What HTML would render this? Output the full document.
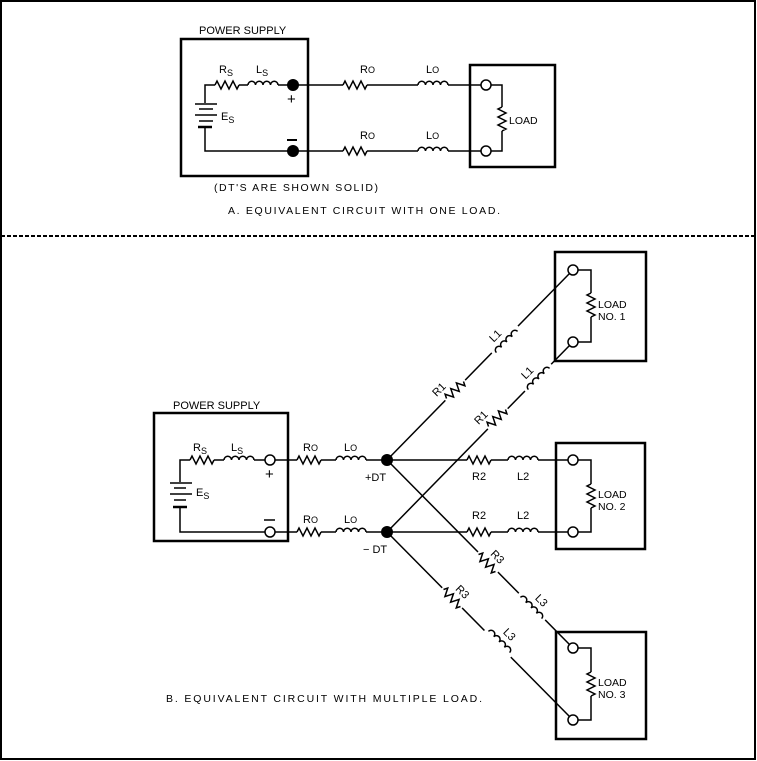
<!DOCTYPE html>
<html><head><meta charset="utf-8"><style>
html,body{margin:0;padding:0;background:#fff}
svg{display:block}
</style></head><body>
<svg width="757" height="761" viewBox="0 0 757 761" xmlns="http://www.w3.org/2000/svg" font-family="Liberation Sans, sans-serif" font-size="11" fill="#000">
<defs>
<path id="res" d="M-12,0 l2,-4 l4,8 l4,-8 l4,8 l4,-8 l4,8 l2,-4" fill="none" stroke="#000" stroke-width="1.5"/>
<path id="ind" d="M-15,0 a3.75,3.75 0 0 1 7.5,0 a3.75,3.75 0 0 1 7.5,0 a3.75,3.75 0 0 1 7.5,0 a3.75,3.75 0 0 1 7.5,0" fill="none" stroke="#000" stroke-width="1.5"/>
<path id="rv" d="M0,-12 l-4,2 l8,4 l-8,4 l8,4 l-8,4 l8,4 l-4,2" fill="none" stroke="#000" stroke-width="1.5"/>
</defs>
<rect x="1" y="1" width="754" height="758" fill="none" stroke="#000" stroke-width="2"/>
<line x1="1" y1="236" x2="755" y2="236" stroke="#000" stroke-width="2" stroke-dasharray="4,2"/>

<g stroke="#000" stroke-width="1.5" fill="none">
<rect x="181" y="39" width="127" height="137" stroke-width="2.5"/>
<rect x="470" y="65" width="85" height="102" stroke-width="2.5"/>
<polyline points="205,103 205,85 215,85"/>
<line x1="239" y1="85" x2="248" y2="85"/>
<line x1="278" y1="85" x2="343" y2="85"/>
<line x1="367" y1="85" x2="418" y2="85"/>
<line x1="448" y1="85" x2="481" y2="85"/>
<polyline points="205,128 205,151 343,151"/>
<line x1="367" y1="151" x2="418" y2="151"/>
<line x1="448" y1="151" x2="481" y2="151"/>
<polyline points="491,85 502,85 502,107"/>
<polyline points="502,131 502,151 491,151"/>
<line x1="195" y1="104" x2="217" y2="104"/>
<line x1="199" y1="109" x2="213" y2="109"/>
<line x1="195" y1="115" x2="217" y2="115"/>
<line x1="199" y1="121" x2="213" y2="121"/>
<line x1="198" y1="127" x2="212" y2="127" stroke-width="2.5"/>
<circle cx="486" cy="85" r="5"/>
<circle cx="486" cy="151" r="5"/>
<line x1="287" y1="140" x2="297" y2="140" stroke-width="2"/>
<line x1="264" y1="520" x2="275" y2="520" stroke-width="1.5"/>
</g>
<use href="#res" x="227" y="85"/>
<use href="#ind" x="263" y="85"/>
<use href="#res" x="355" y="85"/>
<use href="#ind" x="433" y="85"/>
<use href="#res" x="355" y="151"/>
<use href="#ind" x="433" y="151"/>
<use href="#rv" x="502" y="119"/>
<circle cx="293" cy="85" r="6"/>
<circle cx="293" cy="151" r="6"/>
<text x="199" y="34">POWER SUPPLY</text>
<text x="219" y="73">R<tspan font-size="9" dy="3">S</tspan></text>
<text x="256" y="73">L<tspan font-size="9" dy="3">S</tspan></text>
<text x="221" y="120">E<tspan font-size="9" dy="3">S</tspan></text>
<text x="287" y="104" font-size="15">+</text>
<text x="360" y="73">R<tspan font-size="9">O</tspan></text>
<text x="426" y="73">L<tspan font-size="9">O</tspan></text>
<text x="360" y="139">R<tspan font-size="9">O</tspan></text>
<text x="426" y="139">L<tspan font-size="9">O</tspan></text>
<text x="509" y="124" font-size="10.5">LOAD</text>
<text x="214" y="191" font-size="10.5" textLength="164" lengthAdjust="spacing">(DT'S ARE SHOWN SOLID)</text>
<text x="228" y="214" font-size="10.5" textLength="272" lengthAdjust="spacing">A. EQUIVALENT CIRCUIT WITH ONE LOAD.</text>

<g stroke="#000" stroke-width="1.5" fill="none">
<rect x="154" y="413" width="134" height="128" stroke-width="2.5"/>
<rect x="555" y="252" width="91" height="109" stroke-width="2.5"/>
<rect x="556" y="443" width="89" height="106" stroke-width="2.5"/>
<rect x="556" y="632" width="90" height="107" stroke-width="2.5"/>
<polyline points="180,482 180,460 190,460"/>
<line x1="214" y1="460" x2="224" y2="460"/>
<line x1="254" y1="460" x2="265" y2="460"/>
<polyline points="180,508 180,532 265,532"/>
<line x1="275" y1="460" x2="297" y2="460"/>
<line x1="321" y1="460" x2="336" y2="460"/>
<line x1="366" y1="460" x2="467" y2="460"/>
<line x1="491" y1="460" x2="508" y2="460"/>
<line x1="538" y1="460" x2="568" y2="460"/>
<line x1="275" y1="532" x2="297" y2="532"/>
<line x1="321" y1="532" x2="336" y2="532"/>
<line x1="366" y1="532" x2="467" y2="532"/>
<line x1="491" y1="532" x2="508" y2="532"/>
<line x1="538" y1="532" x2="568" y2="532"/>
<line x1="170" y1="483" x2="192" y2="483"/>
<line x1="174" y1="488" x2="186" y2="488"/>
<line x1="170" y1="494" x2="192" y2="494"/>
<line x1="174" y1="500" x2="186" y2="500"/>
<line x1="173" y1="507" x2="187" y2="507" stroke-width="2.5"/>
<circle cx="270" cy="460" r="5"/>
<circle cx="270" cy="532" r="5"/>
<line x1="387" y1="460" x2="570" y2="273"/>
<line x1="387" y1="532" x2="570" y2="345"/>
<line x1="387" y1="460" x2="570" y2="645"/>
<line x1="387" y1="532" x2="570" y2="717"/>
<polyline points="578,270 591,270 591,293"/>
<polyline points="591,317 591,342 578,342"/>
<polyline points="578,460 591,460 591,484"/>
<polyline points="591,508 591,532 578,532"/>
<polyline points="578,648 591,648 591,672"/>
<polyline points="591,696 591,720 578,720"/>
<circle cx="573" cy="270" r="5" fill="#fff"/>
<circle cx="573" cy="342" r="5" fill="#fff"/>
<circle cx="573" cy="460" r="5" fill="#fff"/>
<circle cx="573" cy="532" r="5" fill="#fff"/>
<circle cx="573" cy="648" r="5" fill="#fff"/>
<circle cx="573" cy="720" r="5" fill="#fff"/>
</g>
<use href="#res" x="202" y="460"/>
<use href="#ind" x="239" y="460"/>
<use href="#res" x="309" y="460"/>
<use href="#ind" x="351" y="460"/>
<use href="#res" x="309" y="532"/>
<use href="#ind" x="351" y="532"/>
<use href="#res" x="479" y="460"/>
<use href="#ind" x="523" y="460"/>
<use href="#res" x="479" y="532"/>
<use href="#ind" x="523" y="532"/>
<use href="#rv" x="591" y="305"/>
<use href="#rv" x="591" y="496"/>
<use href="#rv" x="591" y="684"/>
<g stroke="#fff" stroke-width="8">
<line x1="445" y1="400" x2="465" y2="380"/>
<line x1="494" y1="355" x2="520" y2="328"/>
<line x1="487" y1="428" x2="507" y2="408"/>
<line x1="526" y1="392" x2="552" y2="365"/>
<line x1="477" y1="553" x2="497" y2="573"/>
<line x1="518" y1="594" x2="544" y2="621"/>
<line x1="442" y1="588" x2="462" y2="608"/>
<line x1="486" y1="629" x2="512" y2="656"/>
</g>
<g transform="translate(455,390) rotate(-45)"><use href="#res"/><text x="-18" y="-8">R1</text></g>
<g transform="translate(507,342) rotate(-45)"><use href="#ind"/><text x="-10" y="-9">L1</text></g>
<g transform="translate(497,418) rotate(-45)"><use href="#res"/><text x="-18" y="-8">R1</text></g>
<g transform="translate(539,379) rotate(-45)"><use href="#ind"/><text x="-10" y="-9">L1</text></g>
<g transform="translate(487,563) rotate(45)"><use href="#res"/><text x="-4" y="-8">R3</text></g>
<g transform="translate(531,608) rotate(45)"><use href="#ind"/><text x="-4" y="-9">L3</text></g>
<g transform="translate(452,598) rotate(45)"><use href="#res"/><text x="-4" y="-8">R3</text></g>
<g transform="translate(499,642) rotate(45)"><use href="#ind"/><text x="-4" y="-9">L3</text></g>
<circle cx="387" cy="460" r="6"/>
<circle cx="387" cy="532" r="6"/>
<text x="173" y="409">POWER SUPPLY</text>
<text x="193" y="451">R<tspan font-size="9" dy="3">S</tspan></text>
<text x="231" y="451">L<tspan font-size="9" dy="3">S</tspan></text>
<text x="196" y="496">E<tspan font-size="9" dy="3">S</tspan></text>
<text x="265" y="479" font-size="15">+</text>
<text x="303" y="451">R<tspan font-size="9">O</tspan></text>
<text x="344" y="451">L<tspan font-size="9">O</tspan></text>
<text x="303" y="523">R<tspan font-size="9">O</tspan></text>
<text x="344" y="523">L<tspan font-size="9">O</tspan></text>
<text x="365" y="481">+DT</text>
<text x="363" y="553">− DT</text>
<text x="472" y="480">R2</text>
<text x="517" y="480">L2</text>
<text x="472" y="519">R2</text>
<text x="517" y="519">L2</text>
<text x="598" y="308" font-size="10.5">LOAD</text>
<text x="598" y="320" font-size="10.5">NO. 1</text>
<text x="598" y="498" font-size="10.5">LOAD</text>
<text x="598" y="510" font-size="10.5">NO. 2</text>
<text x="598" y="686" font-size="10.5">LOAD</text>
<text x="598" y="698" font-size="10.5">NO. 3</text>
<text x="166" y="702" font-size="10.5" textLength="316" lengthAdjust="spacing">B. EQUIVALENT CIRCUIT WITH MULTIPLE LOAD.</text>
</svg>
</body></html>
